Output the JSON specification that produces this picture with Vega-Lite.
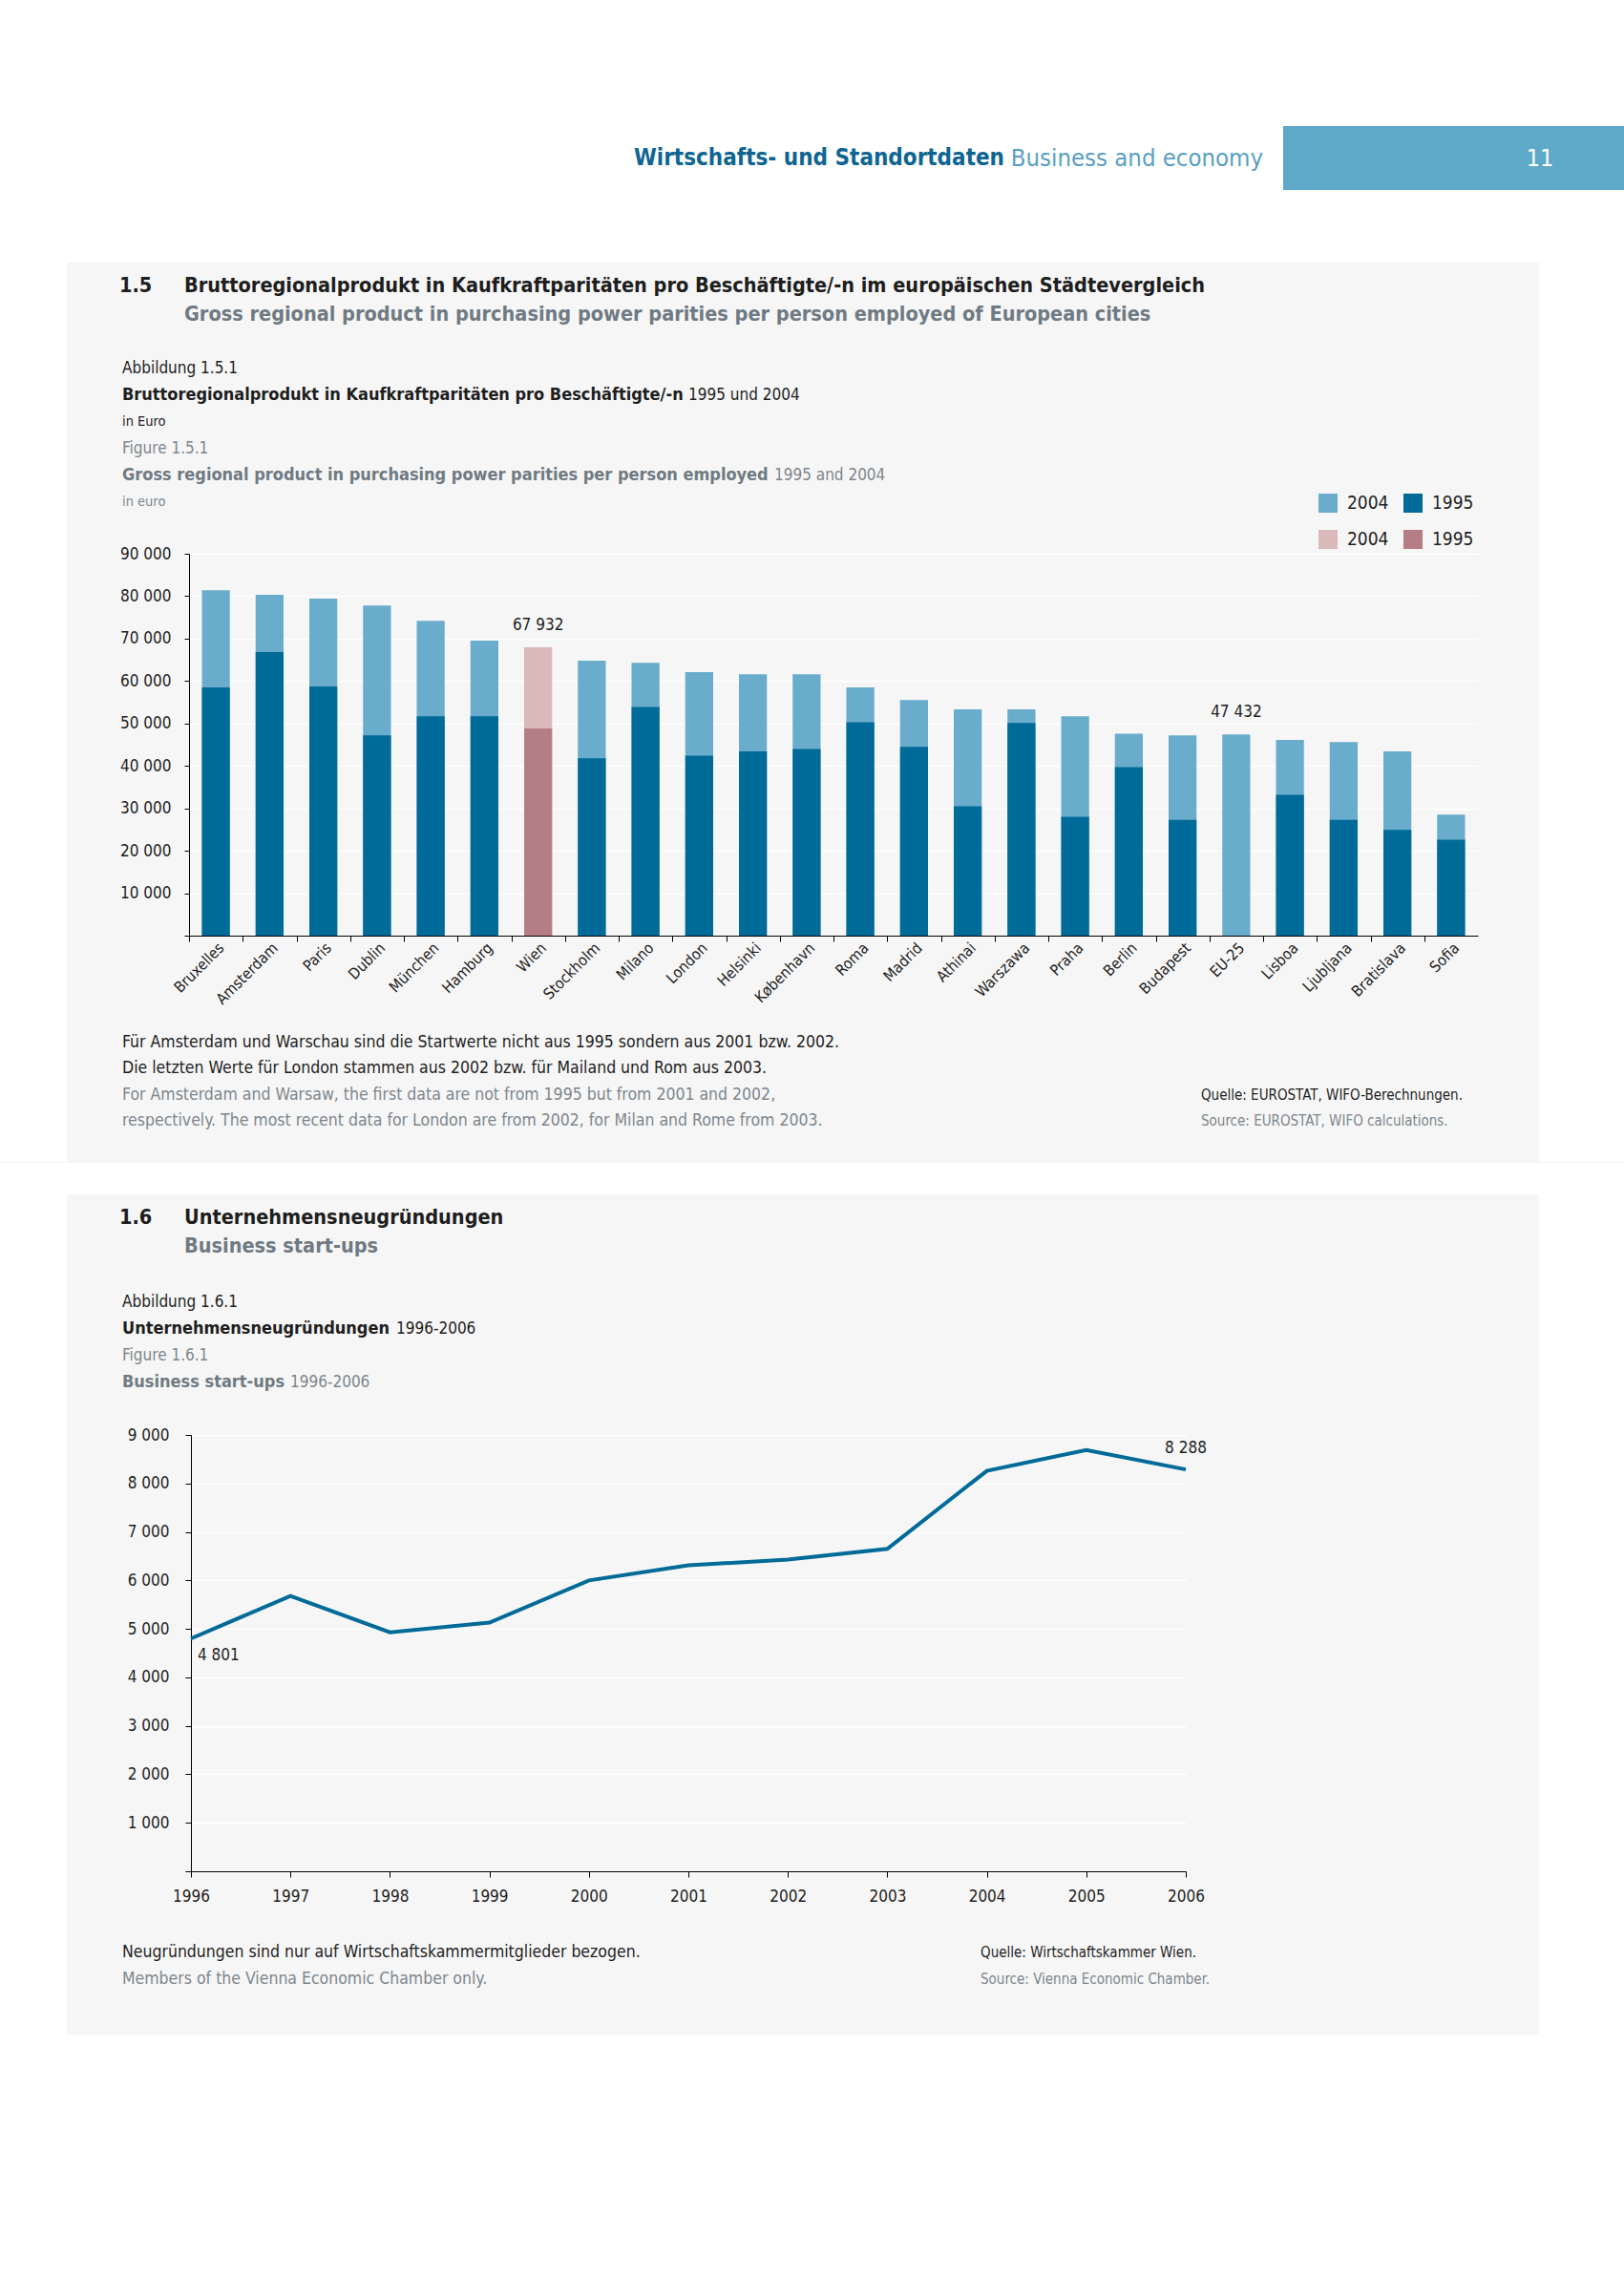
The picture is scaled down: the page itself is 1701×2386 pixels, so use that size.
{
"$schema":"https://vega.github.io/schema/vega-lite/v6.json",
"background":"#f6f6f6",
"padding":0,
"spacing":0,
"config":{"view":{"stroke":null,"strokeWidth":0}},
"vconcat":[
 {"width":1701,"height":132,"view":{"fill":"#ffffff","stroke":null,"strokeWidth":0},"data":{"values":[{"t":""}]},"mark":"text","encoding":{"text":{"field":"t"}}},
 {"spacing":0,"hconcat":[
   {"width":510,"height":67,"view":{"fill":"#ffffff","stroke":null,"strokeWidth":0},"data":{"values":[{"t":""}]},"mark":"text","encoding":{"text":{"field":"t"}}},
   {"width":813,"height":67,"view":{"fill":"#ffffff","stroke":null,"strokeWidth":0},
    "data":{"values":[{"part":"de","text":"Wirtschafts- und Standortdaten"},{"part":"en","text":"Business and economy"}]},
    "encoding":{"x":{"field":"part","type":"nominal","scale":{"type":"point","domain":["de","en"],"padding":1,"align":1},"axis":null},"text":{"field":"text"}},
    "layer":[
      {"transform":[{"filter":"datum.part == 'de'"}],"mark":{"type":"text","align":"right","baseline":"middle","font":"DejaVu Sans Condensed, DejaVu Sans, sans-serif","fontWeight":"bold","fontSize":24,"fill":"#0f6592"}},
      {"transform":[{"filter":"datum.part == 'en'"}],"mark":{"type":"text","align":"right","baseline":"middle","font":"DejaVu Sans Condensed, DejaVu Sans, sans-serif","fontSize":25.5,"fill":"#5a9fc2"}}
    ]},
   {"width":21,"height":67,"view":{"fill":"#ffffff","stroke":null,"strokeWidth":0},"data":{"values":[{"t":""}]},"mark":"text","encoding":{"text":{"field":"t"}}},
   {"width":233,"height":67,"view":{"fill":"#5ea8c8","stroke":null,"strokeWidth":0},"data":{"values":[{"t":""}]},"mark":"text","encoding":{"text":{"field":"t"}}},
   {"width":72,"height":67,"view":{"fill":"#5ea8c8","stroke":null,"strokeWidth":0},"data":{"values":[{"text":"11"}]},"mark":{"type":"text","align":"center","baseline":"middle","font":"DejaVu Sans Condensed, DejaVu Sans, sans-serif","fontSize":25,"fill":"#ffffff"},"encoding":{"text":{"field":"text"}}},
   {"width":52,"height":67,"view":{"fill":"#5ea8c8","stroke":null,"strokeWidth":0},"data":{"values":[{"t":""}]},"mark":"text","encoding":{"text":{"field":"t"}}}
 ]},
 {"width":1701,"height":76,"view":{"fill":"#ffffff","stroke":null,"strokeWidth":0},"data":{"values":[{"t":""}]},"mark":"text","encoding":{"text":{"field":"t"}}},
 {"spacing":0,"hconcat":[
   {"width":70,"height":942,"view":{"fill":"#ffffff","stroke":null,"strokeWidth":0},"data":{"values":[{"t":""}]},"mark":"text","encoding":{"text":{"field":"t"}}},
   {"spacing":0,"vconcat":[
     {"width":1542,"height":9.5,"data":{"values":[{"t":""}]},"mark":{"type":"text","fontSize":1},"encoding":{"text":{"field":"t"}}},
     {"width":178,"height":60,
      "data":{"values":[
        {"line":1,"col":"number","lang":"de","text":"1.5"},
        {"line":1,"col":"heading","lang":"de","text":"Bruttoregionalprodukt in Kaufkraftparitäten pro Beschäftigte/-n im europäischen Städtevergleich"},
        {"line":2,"col":"heading","lang":"en","text":"Gross regional product in purchasing power parities per person employed of European cities"}
      ]},
      "encoding":{
        "x":{"field":"col","type":"nominal","scale":{"type":"point","domain":["number","heading"],"padding":0.8088},"axis":null},
        "y":{"field":"line","type":"ordinal","scale":{"type":"point","domain":[1,2],"padding":0.5},"axis":null},
        "text":{"field":"text"}
      },
      "layer":[
        {"transform":[{"filter":"datum.lang == 'de'"}],"mark":{"type":"text","align":"left","baseline":"middle","font":"DejaVu Sans Condensed, DejaVu Sans, sans-serif","fontWeight":"bold","fontSize":21.5,"fill":"#1e1e1e"}},
        {"transform":[{"filter":"datum.lang == 'en'"}],"mark":{"type":"text","align":"left","baseline":"middle","font":"DejaVu Sans Condensed, DejaVu Sans, sans-serif","fontWeight":"bold","fontSize":21.5,"fill":"#6f7a82"}}
      ]},
     {"width":1,"height":27,"data":{"values":[{"t":""}]},"mark":"text","encoding":{"text":{"field":"t"}}},
     {"width":116,"height":168,
      "data":{"values":[
        {"line":1,"lang":"de","role":"label","text":"Abbildung 1.5.1"},
        {"line":2,"lang":"de","role":"title","text":"Bruttoregionalprodukt in Kaufkraftparitäten pro Beschäftigte/-n"},
        {"line":2,"lang":"de","role":"period","text":"1995 und 2004"},
        {"line":3,"lang":"de","role":"unit","text":"in Euro"},
        {"line":4,"lang":"en","role":"label","text":"Figure 1.5.1"},
        {"line":5,"lang":"en","role":"title","text":"Gross regional product in purchasing power parities per person employed"},
        {"line":5,"lang":"en","role":"period","text":"1995 and 2004"},
        {"line":6,"lang":"en","role":"unit","text":"in euro"}
      ]},
      "encoding":{
        "y":{"field":"line","type":"ordinal","scale":{"type":"point","domain":[1,2,3,4,5,6],"padding":0.5},"axis":null},
        "text":{"field":"text"}
      },
      "layer":[
        {"transform":[{"filter":"datum.role == 'label' && datum.lang == 'de'"}],"mark":{"type":"text","align":"left","baseline":"middle","font":"DejaVu Sans Condensed, DejaVu Sans, sans-serif","fontSize":17,"fill":"#1e1e1e"}},
        {"transform":[{"filter":"datum.role == 'label' && datum.lang == 'en'"}],"mark":{"type":"text","align":"left","baseline":"middle","font":"DejaVu Sans Condensed, DejaVu Sans, sans-serif","fontSize":17,"fill":"#7d868d"}},
        {"transform":[{"filter":"datum.role == 'title' && datum.lang == 'de'"}],"mark":{"type":"text","align":"left","baseline":"middle","font":"DejaVu Sans Condensed, DejaVu Sans, sans-serif","fontWeight":"bold","fontSize":18,"fill":"#1e1e1e"}},
        {"transform":[{"filter":"datum.role == 'title' && datum.lang == 'en'"}],"mark":{"type":"text","align":"left","baseline":"middle","font":"DejaVu Sans Condensed, DejaVu Sans, sans-serif","fontWeight":"bold","fontSize":18,"fill":"#6f7a82"}},
        {"transform":[{"filter":"datum.role == 'unit' && datum.lang == 'de'"}],"mark":{"type":"text","align":"left","baseline":"middle","font":"DejaVu Sans Condensed, DejaVu Sans, sans-serif","fontSize":14.5,"fill":"#1e1e1e"}},
        {"transform":[{"filter":"datum.role == 'unit' && datum.lang == 'en'"}],"mark":{"type":"text","align":"left","baseline":"middle","font":"DejaVu Sans Condensed, DejaVu Sans, sans-serif","fontSize":14.5,"fill":"#7d868d"}},
        {"transform":[{"filter":"datum.role == 'period' && datum.line == 2"}],"mark":{"type":"text","align":"left","baseline":"middle","font":"DejaVu Sans Condensed, DejaVu Sans, sans-serif","fontSize":17,"fill":"#1e1e1e","dx":593}},
        {"transform":[{"filter":"datum.role == 'period' && datum.line == 5"}],"mark":{"type":"text","align":"left","baseline":"middle","font":"DejaVu Sans Condensed, DejaVu Sans, sans-serif","fontSize":17,"fill":"#7d868d","dx":683}}
      ]},
     {"width":1,"height":31,"data":{"values":[{"t":""}]},"mark":"text","encoding":{"text":{"field":"t"}}},
     {"spacing":0,"hconcat":[
       {"width":55,"height":1,"data":{"values":[{"t":""}]},"mark":"text","encoding":{"text":{"field":"t"}}},
       {"width":1350,"height":400,
        "data":{"values":[
          {"city":"Bruxelles","year":"2004","series":"Cities 2004","value":81400},
          {"city":"Amsterdam","year":"2004","series":"Cities 2004","value":80300},
          {"city":"Paris","year":"2004","series":"Cities 2004","value":79400},
          {"city":"Dublin","year":"2004","series":"Cities 2004","value":77800},
          {"city":"München","year":"2004","series":"Cities 2004","value":74200},
          {"city":"Hamburg","year":"2004","series":"Cities 2004","value":69500},
          {"city":"Wien","year":"2004","series":"Wien 2004","value":67932,"label":"67 932"},
          {"city":"Stockholm","year":"2004","series":"Cities 2004","value":64800},
          {"city":"Milano","year":"2004","series":"Cities 2004","value":64300},
          {"city":"London","year":"2004","series":"Cities 2004","value":62100},
          {"city":"Helsinki","year":"2004","series":"Cities 2004","value":61600},
          {"city":"København","year":"2004","series":"Cities 2004","value":61600},
          {"city":"Roma","year":"2004","series":"Cities 2004","value":58500},
          {"city":"Madrid","year":"2004","series":"Cities 2004","value":55500},
          {"city":"Athinai","year":"2004","series":"Cities 2004","value":53300},
          {"city":"Warszawa","year":"2004","series":"Cities 2004","value":53300},
          {"city":"Praha","year":"2004","series":"Cities 2004","value":51700},
          {"city":"Berlin","year":"2004","series":"Cities 2004","value":47600},
          {"city":"Budapest","year":"2004","series":"Cities 2004","value":47200},
          {"city":"EU-25","year":"2004","series":"Cities 2004","value":47432,"label":"47 432"},
          {"city":"Lisboa","year":"2004","series":"Cities 2004","value":46100},
          {"city":"Ljubljana","year":"2004","series":"Cities 2004","value":45600},
          {"city":"Bratislava","year":"2004","series":"Cities 2004","value":43400},
          {"city":"Sofia","year":"2004","series":"Cities 2004","value":28500},
          {"city":"Bruxelles","year":"1995","series":"Cities 1995","value":58500},
          {"city":"Amsterdam","year":"1995","series":"Cities 1995","value":66800},
          {"city":"Paris","year":"1995","series":"Cities 1995","value":58700},
          {"city":"Dublin","year":"1995","series":"Cities 1995","value":47200},
          {"city":"München","year":"1995","series":"Cities 1995","value":51700},
          {"city":"Hamburg","year":"1995","series":"Cities 1995","value":51700},
          {"city":"Wien","year":"1995","series":"Wien 1995","value":48800},
          {"city":"Stockholm","year":"1995","series":"Cities 1995","value":41800},
          {"city":"Milano","year":"1995","series":"Cities 1995","value":53900},
          {"city":"London","year":"1995","series":"Cities 1995","value":42400},
          {"city":"Helsinki","year":"1995","series":"Cities 1995","value":43400},
          {"city":"København","year":"1995","series":"Cities 1995","value":44000},
          {"city":"Roma","year":"1995","series":"Cities 1995","value":50300},
          {"city":"Madrid","year":"1995","series":"Cities 1995","value":44500},
          {"city":"Athinai","year":"1995","series":"Cities 1995","value":30500},
          {"city":"Warszawa","year":"1995","series":"Cities 1995","value":50100},
          {"city":"Praha","year":"1995","series":"Cities 1995","value":28000},
          {"city":"Berlin","year":"1995","series":"Cities 1995","value":39700},
          {"city":"Budapest","year":"1995","series":"Cities 1995","value":27300},
          {"city":"Lisboa","year":"1995","series":"Cities 1995","value":33200},
          {"city":"Ljubljana","year":"1995","series":"Cities 1995","value":27300},
          {"city":"Bratislava","year":"1995","series":"Cities 1995","value":24900},
          {"city":"Sofia","year":"1995","series":"Cities 1995","value":22600}
        ]},
        "layer":[
          {"mark":{"type":"bar"},
           "encoding":{
             "x":{"field":"city","type":"nominal","scale":{"domain":["Bruxelles","Amsterdam","Paris","Dublin","München","Hamburg","Wien","Stockholm","Milano","London","Helsinki","København","Roma","Madrid","Athinai","Warszawa","Praha","Berlin","Budapest","EU-25","Lisboa","Ljubljana","Bratislava","Sofia"],"paddingInner":0.48,"paddingOuter":0.24},
                  "axis":{"orient":"bottom","title":null,"labels":false,"ticks":true,"tickSize":6,"bandPosition":0,"tickOffset":-13.5,"domain":true,"domainColor":"#000000","tickColor":"#000000","grid":false}},
             "y":{"field":"value","type":"quantitative","stack":null,"scale":{"domain":[0,90000],"nice":false},
                  "axis":{"title":null,"values":[0,10000,20000,30000,40000,50000,60000,70000,80000,90000],"grid":true,"gridColor":"#ffffff","gridWidth":1.5,"domainColor":"#000000","tickColor":"#000000","tickSize":5,"labelPadding":14,"labelFont":"DejaVu Sans Condensed, DejaVu Sans, sans-serif","labelFontSize":17,"labelColor":"#1e1e1e","labelExpr":"datum.value == 0 ? '' : replace(format(datum.value, ','), ',', ' ')"}},
             "color":{"field":"series","type":"nominal","scale":{"domain":["Cities 2004","Cities 1995","Wien 2004","Wien 1995"],"range":["#69accb","#006a98","#dab9ba","#b57e84"]},
                  "legend":{"orient":"none","legendX":1381,"legendY":517,"columns":2,"direction":"horizontal","title":null,"padding":0,"symbolType":"square","symbolSize":400,"symbolStrokeWidth":0,"labelFont":"DejaVu Sans Condensed, DejaVu Sans, sans-serif","labelFontSize":19,"labelColor":"#1e1e1e","labelOffset":10,"columnPadding":15,"rowPadding":18,"labelExpr":"slice(datum.label, -4)"}}
           }},
          {"transform":[{"filter":"datum.label != null"}],
           "mark":{"type":"text","align":"center","baseline":"bottom","dy":-14,"font":"DejaVu Sans Condensed, DejaVu Sans, sans-serif","fontSize":17,"fill":"#1e1e1e"},
           "encoding":{
             "x":{"field":"city","type":"nominal","axis":{"orient":"bottom","title":null,"labels":true,"ticks":false,"tickSize":0,"domain":false,"grid":false,"labelAngle":-45,"labelAlign":"right","labelBaseline":"middle","labelPadding":10,"labelOffset":6,"labelFont":"DejaVu Sans Condensed, DejaVu Sans, sans-serif","labelFontSize":16,"labelColor":"#1e1e1e"}},
             "y":{"field":"value","type":"quantitative"},
             "text":{"field":"label"}
           }}
        ],
        "resolve":{"axis":{"x":"independent"}}
       }
     ]},
     {"width":1,"height":23,"data":{"values":[{"t":""}]},"mark":"text","encoding":{"text":{"field":"t"}}},
     {"width":1246,"height":110,
      "data":{"values":[
        {"line":1,"col":"note","lang":"de","text":"Für Amsterdam und Warschau sind die Startwerte nicht aus 1995 sondern aus 2001 bzw. 2002."},
        {"line":2,"col":"note","lang":"de","text":"Die letzten Werte für London stammen aus 2002 bzw. für Mailand und Rom aus 2003."},
        {"line":3,"col":"note","lang":"en","text":"For Amsterdam and Warsaw, the first data are not from 1995 but from 2001 and 2002,"},
        {"line":4,"col":"note","lang":"en","text":"respectively. The most recent data for London are from 2002, for Milan and Rome from 2003."},
        {"line":3,"col":"source","lang":"de","text":"Quelle: EUROSTAT, WIFO-Berechnungen."},
        {"line":4,"col":"source","lang":"en","text":"Source: EUROSTAT, WIFO calculations."}
      ]},
      "encoding":{
        "x":{"field":"col","type":"nominal","scale":{"type":"point","domain":["note","source"],"padding":0.05133},"axis":null},
        "y":{"field":"line","type":"ordinal","scale":{"type":"point","domain":[1,2,3,4],"padding":0.5},"axis":null},
        "text":{"field":"text"}
      },
      "layer":[
        {"transform":[{"filter":"datum.col == 'note' && datum.lang == 'de'"}],"mark":{"type":"text","align":"left","baseline":"middle","font":"DejaVu Sans Condensed, DejaVu Sans, sans-serif","fontSize":17.5,"fill":"#1e1e1e"}},
        {"transform":[{"filter":"datum.col == 'note' && datum.lang == 'en'"}],"mark":{"type":"text","align":"left","baseline":"middle","font":"DejaVu Sans Condensed, DejaVu Sans, sans-serif","fontSize":17.5,"fill":"#7d868d"}},
        {"transform":[{"filter":"datum.col == 'source' && datum.lang == 'de'"}],"mark":{"type":"text","align":"left","baseline":"middle","font":"DejaVu Sans Condensed, DejaVu Sans, sans-serif","fontSize":15,"fill":"#1e1e1e"}},
        {"transform":[{"filter":"datum.col == 'source' && datum.lang == 'en'"}],"mark":{"type":"text","align":"left","baseline":"middle","font":"DejaVu Sans Condensed, DejaVu Sans, sans-serif","fontSize":15,"fill":"#7d868d"}}
      ]},
     {"width":1,"height":30,"data":{"values":[{"t":""}]},"mark":"text","encoding":{"text":{"field":"t"}}}
   ]},
   {"width":89,"height":942,"view":{"fill":"#ffffff","stroke":null,"strokeWidth":0},"data":{"values":[{"t":""}]},"mark":"text","encoding":{"text":{"field":"t"}}}
 ]},
 {"width":1701,"height":33,"view":{"fill":"#ffffff","stroke":null,"strokeWidth":0},"data":{"values":[{"t":""}]},"mark":"text","encoding":{"text":{"field":"t"}}},
 {"spacing":0,"hconcat":[
   {"width":70,"height":880,"view":{"fill":"#ffffff","stroke":null,"strokeWidth":0},"data":{"values":[{"t":""}]},"mark":"text","encoding":{"text":{"field":"t"}}},
   {"spacing":0,"vconcat":[
     {"width":1542,"height":9.5,"data":{"values":[{"t":""}]},"mark":{"type":"text","fontSize":1},"encoding":{"text":{"field":"t"}}},
     {"width":178,"height":60,
      "data":{"values":[
        {"line":1,"col":"number","lang":"de","text":"1.6"},
        {"line":1,"col":"heading","lang":"de","text":"Unternehmensneugründungen"},
        {"line":2,"col":"heading","lang":"en","text":"Business start-ups"}
      ]},
      "encoding":{
        "x":{"field":"col","type":"nominal","scale":{"type":"point","domain":["number","heading"],"padding":0.8088},"axis":null},
        "y":{"field":"line","type":"ordinal","scale":{"type":"point","domain":[1,2],"padding":0.5},"axis":null},
        "text":{"field":"text"}
      },
      "layer":[
        {"transform":[{"filter":"datum.lang == 'de'"}],"mark":{"type":"text","align":"left","baseline":"middle","font":"DejaVu Sans Condensed, DejaVu Sans, sans-serif","fontWeight":"bold","fontSize":21.5,"fill":"#1e1e1e"}},
        {"transform":[{"filter":"datum.lang == 'en'"}],"mark":{"type":"text","align":"left","baseline":"middle","font":"DejaVu Sans Condensed, DejaVu Sans, sans-serif","fontWeight":"bold","fontSize":21.5,"fill":"#6f7a82"}}
      ]},
     {"width":1,"height":29,"data":{"values":[{"t":""}]},"mark":"text","encoding":{"text":{"field":"t"}}},
     {"width":116,"height":112,
      "data":{"values":[
        {"line":1,"lang":"de","role":"label","text":"Abbildung 1.6.1"},
        {"line":2,"lang":"de","role":"title","text":"Unternehmensneugründungen"},
        {"line":2,"lang":"de","role":"period","text":"1996-2006"},
        {"line":3,"lang":"en","role":"label","text":"Figure 1.6.1"},
        {"line":4,"lang":"en","role":"title","text":"Business start-ups"},
        {"line":4,"lang":"en","role":"period","text":"1996-2006"}
      ]},
      "encoding":{
        "y":{"field":"line","type":"ordinal","scale":{"type":"point","domain":[1,2,3,4],"padding":0.5},"axis":null},
        "text":{"field":"text"}
      },
      "layer":[
        {"transform":[{"filter":"datum.role == 'label' && datum.lang == 'de'"}],"mark":{"type":"text","align":"left","baseline":"middle","font":"DejaVu Sans Condensed, DejaVu Sans, sans-serif","fontSize":17,"fill":"#1e1e1e"}},
        {"transform":[{"filter":"datum.role == 'label' && datum.lang == 'en'"}],"mark":{"type":"text","align":"left","baseline":"middle","font":"DejaVu Sans Condensed, DejaVu Sans, sans-serif","fontSize":17,"fill":"#7d868d"}},
        {"transform":[{"filter":"datum.role == 'title' && datum.lang == 'de'"}],"mark":{"type":"text","align":"left","baseline":"middle","font":"DejaVu Sans Condensed, DejaVu Sans, sans-serif","fontWeight":"bold","fontSize":18,"fill":"#1e1e1e"}},
        {"transform":[{"filter":"datum.role == 'title' && datum.lang == 'en'"}],"mark":{"type":"text","align":"left","baseline":"middle","font":"DejaVu Sans Condensed, DejaVu Sans, sans-serif","fontWeight":"bold","fontSize":18,"fill":"#6f7a82"}},
        {"transform":[{"filter":"datum.role == 'period' && datum.line == 2"}],"mark":{"type":"text","align":"left","baseline":"middle","font":"DejaVu Sans Condensed, DejaVu Sans, sans-serif","fontSize":17,"fill":"#1e1e1e","dx":287}},
        {"transform":[{"filter":"datum.role == 'period' && datum.line == 4"}],"mark":{"type":"text","align":"left","baseline":"middle","font":"DejaVu Sans Condensed, DejaVu Sans, sans-serif","fontSize":17,"fill":"#7d868d","dx":176}}
      ]},
     {"width":1,"height":32,"data":{"values":[{"t":""}]},"mark":"text","encoding":{"text":{"field":"t"}}},
     {"spacing":0,"hconcat":[
       {"width":63,"height":1,"data":{"values":[{"t":""}]},"mark":"text","encoding":{"text":{"field":"t"}}},
       {"width":1042,"height":457,
        "data":{"values":[
          {"year":1996,"value":4801,"label":"4 801"},
          {"year":1997,"value":5680},
          {"year":1998,"value":4930},
          {"year":1999,"value":5130},
          {"year":2000,"value":6000},
          {"year":2001,"value":6310},
          {"year":2002,"value":6430},
          {"year":2003,"value":6650},
          {"year":2004,"value":8260},
          {"year":2005,"value":8690},
          {"year":2006,"value":8288,"label":"8 288"}
        ]},
        "encoding":{
          "x":{"field":"year","type":"ordinal","scale":{"type":"point","padding":0},
               "axis":{"title":null,"labelAngle":0,"tickSize":6,"labelPadding":12,"domainColor":"#000000","tickColor":"#000000","grid":false,"labelFont":"DejaVu Sans Condensed, DejaVu Sans, sans-serif","labelFontSize":17,"labelColor":"#1e1e1e"}},
          "y":{"field":"value","type":"quantitative","scale":{"domain":[0,9000],"nice":false},
               "axis":{"title":null,"values":[0,1000,2000,3000,4000,5000,6000,7000,8000,9000],"grid":true,"gridColor":"#ffffff","gridWidth":1.5,"domainColor":"#000000","tickColor":"#000000","tickSize":6,"labelPadding":17,"labelFont":"DejaVu Sans Condensed, DejaVu Sans, sans-serif","labelFontSize":17,"labelColor":"#1e1e1e","labelExpr":"datum.value == 0 ? '' : replace(format(datum.value, ','), ',', ' ')"}}
        },
        "layer":[
          {"mark":{"type":"line","stroke":"#006a98","strokeWidth":4}},
          {"transform":[{"filter":"datum.year == 1996"}],"mark":{"type":"text","align":"left","baseline":"middle","dx":7,"dy":18,"font":"DejaVu Sans Condensed, DejaVu Sans, sans-serif","fontSize":17,"fill":"#1e1e1e"},"encoding":{"text":{"field":"label"}}},
          {"transform":[{"filter":"datum.year == 2006"}],"mark":{"type":"text","align":"center","baseline":"middle","dy":-22,"font":"DejaVu Sans Condensed, DejaVu Sans, sans-serif","fontSize":17,"fill":"#1e1e1e"},"encoding":{"text":{"field":"label"}}}
        ]}
     ]},
     {"width":1,"height":37,"data":{"values":[{"t":""}]},"mark":"text","encoding":{"text":{"field":"t"}}},
     {"width":1015,"height":56,
      "data":{"values":[
        {"line":1,"col":"note","lang":"de","text":"Neugründungen sind nur auf Wirtschaftskammermitglieder bezogen."},
        {"line":2,"col":"note","lang":"en","text":"Members of the Vienna Economic Chamber only."},
        {"line":1,"col":"source","lang":"de","text":"Quelle: Wirtschaftskammer Wien."},
        {"line":2,"col":"source","lang":"en","text":"Source: Vienna Economic Chamber."}
      ]},
      "encoding":{
        "x":{"field":"col","type":"nominal","scale":{"type":"point","domain":["note","source"],"padding":0.0645},"axis":null},
        "y":{"field":"line","type":"ordinal","scale":{"type":"point","domain":[1,2],"padding":0.5},"axis":null},
        "text":{"field":"text"}
      },
      "layer":[
        {"transform":[{"filter":"datum.col == 'note' && datum.lang == 'de'"}],"mark":{"type":"text","align":"left","baseline":"middle","font":"DejaVu Sans Condensed, DejaVu Sans, sans-serif","fontSize":17.5,"fill":"#1e1e1e"}},
        {"transform":[{"filter":"datum.col == 'note' && datum.lang == 'en'"}],"mark":{"type":"text","align":"left","baseline":"middle","font":"DejaVu Sans Condensed, DejaVu Sans, sans-serif","fontSize":17.5,"fill":"#7d868d"}},
        {"transform":[{"filter":"datum.col == 'source' && datum.lang == 'de'"}],"mark":{"type":"text","align":"left","baseline":"middle","font":"DejaVu Sans Condensed, DejaVu Sans, sans-serif","fontSize":15,"fill":"#1e1e1e"}},
        {"transform":[{"filter":"datum.col == 'source' && datum.lang == 'en'"}],"mark":{"type":"text","align":"left","baseline":"middle","font":"DejaVu Sans Condensed, DejaVu Sans, sans-serif","fontSize":15,"fill":"#7d868d"}}
      ]},
     {"width":1,"height":44,"data":{"values":[{"t":""}]},"mark":"text","encoding":{"text":{"field":"t"}}}
   ]},
   {"width":89,"height":880,"view":{"fill":"#ffffff","stroke":null,"strokeWidth":0},"data":{"values":[{"t":""}]},"mark":"text","encoding":{"text":{"field":"t"}}}
 ]},
 {"width":1701,"height":256,"view":{"fill":"#ffffff","stroke":null,"strokeWidth":0},"data":{"values":[{"t":""}]},"mark":"text","encoding":{"text":{"field":"t"}}}
]
}
